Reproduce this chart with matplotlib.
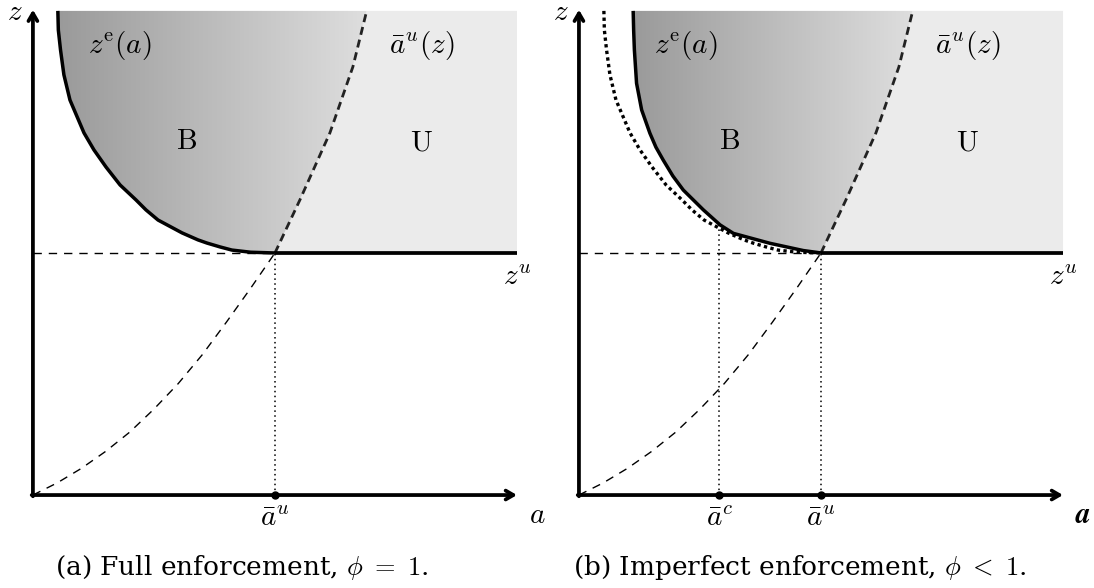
import numpy as np
import matplotlib.pyplot as plt
from matplotlib.patches import Polygon
from matplotlib.colors import LinearSegmentedColormap

plt.rcParams['mathtext.fontset'] = 'cm'

# units: a_u = z_u = 1
A_U = 1.0
Z_U = 1.0
A_C = 0.58
A_MAX = 2.0
Z_MAX = 2.0

# z^e(a), full enforcement (top to kink)
ze_full_a = [0.103, 0.105, 0.114, 0.128, 0.153, 0.211, 0.252, 0.302, 0.360, 0.426,
             0.467, 0.517, 0.616, 0.682, 0.719, 0.773, 0.822, 0.900, 1.0]
ze_full_z = [2.0, 1.921, 1.839, 1.736, 1.632, 1.496, 1.426, 1.355, 1.281, 1.219,
             1.178, 1.136, 1.083, 1.054, 1.041, 1.025, 1.012, 1.003, 1.0]

# z^e(a), imperfect enforcement
ze_imp_a = [0.224, 0.226, 0.229, 0.238, 0.259, 0.293, 0.318, 0.348, 0.388, 0.431,
            0.514, 0.583, 0.638, 0.789, 0.927, 1.0]
ze_imp_z = [2.0, 1.92, 1.839, 1.701, 1.591, 1.495, 1.437, 1.384, 1.318, 1.260,
            1.178, 1.116, 1.081, 1.040, 1.010, 1.0]

# a-bar^u(z) curve
au_a = [0.0, 0.1, 0.2, 0.3, 0.4, 0.5, 0.6, 0.7, 0.8, 0.9, 1.0,
        1.103, 1.227, 1.322, 1.379]
au_z = [0.0, 0.05, 0.11, 0.18, 0.26, 0.355, 0.46, 0.58, 0.715, 0.855, 1.0,
        1.219, 1.496, 1.769, 2.0]

grad_cmap = LinearSegmentedColormap.from_list('b', ['#9a9a9a', '#dedede'])
FS = 21


def draw_panel(ax, ze_a, ze_z, imperfect):
    au_arr_a = np.array(au_a)
    au_arr_z = np.array(au_z)
    upper = au_arr_z >= Z_U
    lower = au_arr_z <= Z_U

    # U region
    u_verts = list(zip(au_arr_a[upper], au_arr_z[upper])) + [(A_MAX, Z_MAX), (A_MAX, Z_U)]
    ax.add_patch(Polygon(u_verts, closed=True, facecolor='#ebebeb', edgecolor='none', zorder=1))

    # B region with horizontal gradient
    b_verts = list(zip(ze_a, ze_z)) + list(zip(au_arr_a[upper], au_arr_z[upper]))[1:]
    b_patch = Polygon(b_verts, closed=True, facecolor='none', edgecolor='none', zorder=2)
    ax.add_patch(b_patch)
    grad = np.linspace(0, 1, 256)[None, :]
    im = ax.imshow(grad, cmap=grad_cmap, aspect='auto', zorder=2,
                   extent=[min(ze_a), au_arr_a.max(), Z_U, Z_MAX], interpolation='bilinear')
    im.set_clip_path(b_patch)

    # reference lines
    ax.plot([0, A_U], [Z_U, Z_U], color='black', lw=1.0, ls=(0, (6, 5)), zorder=3)
    ax.plot([A_U, A_U], [0, Z_U], color='black', lw=1.1, ls=(0, (1, 2.2)), zorder=3)
    ax.plot(au_arr_a[lower], au_arr_z[lower], color='black', lw=1.0, ls=(0, (6, 5)), zorder=3)
    ax.plot(au_arr_a[upper], au_arr_z[upper], color='#222222', lw=2.0, ls=(0, (2.9, 1.8)), zorder=4)

    if imperfect:
        ax.plot(ze_full_a, ze_full_z, color='black', lw=2.4, ls=(0, (1, 1)), zorder=4)
        z_c = np.interp(A_C, ze_a, ze_z)
        ax.plot([A_C, A_C], [0, z_c], color='black', lw=1.1, ls=(0, (1, 2.2)), zorder=3)
        ax.plot([A_C], [0], 'o', color='black', ms=5, zorder=6)
        ax.text(A_C, -0.095, r'$\bar{a}^c$', fontsize=FS, ha='center', va='center')

    # z^e curve and z^u line
    ax.plot(ze_a, ze_z, color='black', lw=2.5, zorder=5, solid_capstyle='butt',
            solid_joinstyle='round')
    ax.plot([A_U, A_MAX], [Z_U, Z_U], color='black', lw=2.7, zorder=5, solid_capstyle='butt')

    # axes with arrows
    arrow = dict(arrowstyle='->,head_length=0.55,head_width=0.32', lw=2.7,
                 color='black', shrinkA=0, shrinkB=0)
    ax.annotate('', xy=(A_MAX, 0), xytext=(-0.005, 0), arrowprops=arrow, zorder=6)
    ax.annotate('', xy=(0, Z_MAX + 0.005), xytext=(0, -0.005), arrowprops=arrow, zorder=6)
    ax.plot([A_U], [0], 'o', color='black', ms=5, zorder=6)

    # labels
    ax.text(-0.075, 1.995, r'$z$', fontsize=FS, ha='center', va='center')
    ax.text(A_U, -0.095, r'$\bar{a}^u$', fontsize=FS, ha='center', va='center')
    ax.text(A_MAX, 0.9, r'$z^u$', fontsize=FS, ha='center', va='center')
    if imperfect:
        ax.text(2.083, -0.083, r'$\boldsymbol{a}$', fontsize=FS, ha='center', va='center')
        ax.text(0.442, 1.855, r'$z^{\mathrm{e}}(a)$', fontsize=FS, ha='center', va='center')
        ax.text(0.624, 1.463, r'$\mathrm{B}$', fontsize=FS, ha='center', va='center')
    else:
        ax.text(2.083, -0.083, r'$a$', fontsize=FS, ha='center', va='center')
        ax.text(0.36, 1.855, r'$z^{\mathrm{e}}(a)$', fontsize=FS, ha='center', va='center')
        ax.text(0.636, 1.463, r'$\mathrm{B}$', fontsize=FS, ha='center', va='center')
    ax.text(1.605, 1.855, r'$\bar{a}^u(z)$', fontsize=FS, ha='center', va='center')
    ax.text(1.605, 1.458, r'$\mathrm{U}$', fontsize=FS, ha='center', va='center')


fig = plt.figure(figsize=(10.94, 5.88), dpi=100)
ax1 = fig.add_axes([0, 0, 0.5, 1])
ax2 = fig.add_axes([0.5, 0, 0.5, 1])
ax1.set_xlim(-0.136, 2.124)
ax2.set_xlim(-0.132, 2.128)
for ax in (ax1, ax2):
    ax.set_ylim(-0.384, 2.045)
    ax.axis('off')

draw_panel(ax1, ze_full_a, ze_full_z, imperfect=False)
draw_panel(ax2, ze_imp_a, ze_imp_z, imperfect=True)

ax1.text(0.864, -0.298, r'(a) Full enforcement, $\phi\ =\ 1$.', fontsize=19,
         family='DejaVu Serif', ha='center', va='center')
ax2.text(0.913, -0.298, r'(b) Imperfect enforcement, $\phi\ <\ 1$.', fontsize=19,
         family='DejaVu Serif', ha='center', va='center')

fig.savefig('out.png', dpi=100)
